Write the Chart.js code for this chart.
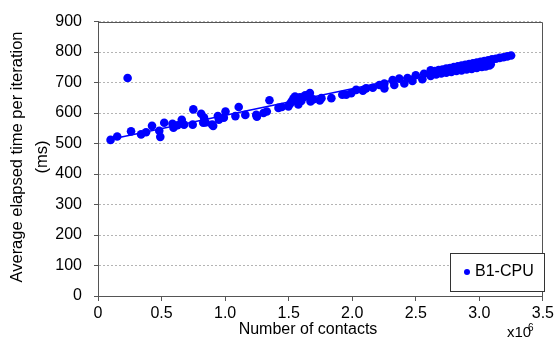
<!DOCTYPE html>
<html>
<head>
<meta charset="utf-8">
<script src="https://cdn.jsdelivr.net/npm/chart.js@4"></script>
<style>
  html, body { margin: 0; padding: 0; background: #fff; }
</style>
</head>
<body>
<canvas id="chart" width="557" height="345"></canvas>
<script>
// measured points: number of contacts (millions) vs time (ms)
var contactsM = [
  0.099, 0.151, 0.233, 0.26, 0.339, 0.378, 0.425, 0.482, 0.49, 0.521,
  0.586, 0.594, 0.625, 0.659, 0.677, 0.75, 0.745, 0.812, 0.834, 0.828,
  0.847, 0.898, 0.906, 0.943, 0.951, 0.99, 1.003, 1.081, 1.107, 1.159,
  1.245, 1.25, 1.302, 1.328, 1.349, 1.42, 1.446, 1.498, 1.51, 1.523,
  1.537, 1.55, 1.56, 1.576, 1.589, 1.6, 1.615, 1.63, 1.654, 1.667,
  1.672, 1.693, 1.745, 1.758, 1.836, 1.922, 1.953, 1.992, 2.031, 2.084,
  2.109, 2.162, 2.214, 2.253, 2.253, 2.318, 2.331, 2.37, 2.41, 2.435,
  2.474, 2.5, 2.552, 2.565, 2.617, 2.617,
  2.65, 2.68, 2.71, 2.74, 2.77, 2.80, 2.83, 2.86, 2.89, 2.92,
  2.95, 2.98, 3.01, 3.04, 3.07, 3.10, 3.13, 3.16, 3.19, 3.22, 3.25,
  2.66, 2.70, 2.74, 2.78, 2.82, 2.86, 2.90, 2.94, 2.98, 3.02, 3.05, 3.08, 3.09,
  2.68, 2.72, 2.80, 2.88, 2.96, 3.04
];
var elapsedMs = [
  512, 523, 715, 540, 530, 537, 558, 542, 522, 568,
  565, 552, 560, 578, 562, 612, 562, 598, 585, 568,
  569, 562, 558, 590, 578, 585, 605, 590, 620, 594,
  594, 588, 600, 605, 642, 617, 620, 622, 630, 638,
  648, 654, 645, 628, 652, 640, 652, 658, 654, 666,
  638, 645, 641, 649, 649, 660, 660, 665, 676, 673,
  681, 683, 692, 697, 681, 708, 692, 713, 697, 715,
  705, 724, 711, 729, 722, 740,
  738, 741, 743, 746, 748, 751, 753, 756, 758, 761,
  763, 766, 768, 771, 773, 776, 778, 781, 783, 786, 789,
  727, 730, 732, 735, 738, 740, 743, 745, 748, 751, 753, 756, 760,
  733, 737, 744, 750, 756, 762
];
// trend line end points
var trendX = [0.1, 3.25];
var trendY = [514, 789];

var seriesName = 'B1-CPU';
var xTitle = 'Number of contacts';
var yTitle = ['Average elapsed time per iteration', '(ms)'];

var blue = '#0000ff';
var axisGrey = '#555555';
var fontName = '"Liberation Sans", Arial, sans-serif';

function toPoints(xs, ys) {
  var out = [];
  for (var i = 0; i < xs.length; i++) out.push({ x: xs[i], y: ys[i] });
  return out;
}

// titles, top/right frame and the legend box inside the plot
var extras = {
  id: 'extras',
  afterDraw: function (chart) {
    var ctx = chart.ctx;
    var a = chart.chartArea;
    ctx.save();
    ctx.strokeStyle = axisGrey;
    ctx.lineWidth = 1;
    ctx.beginPath();
    ctx.moveTo(Math.round(a.left) + 0.5, Math.round(a.top) + 0.5);
    ctx.lineTo(Math.round(a.right) - 0.5, Math.round(a.top) + 0.5);
    ctx.lineTo(Math.round(a.right) - 0.5, Math.round(a.bottom) + 0.5);
    ctx.stroke();

    ctx.fillStyle = '#000';
    ctx.font = '16px ' + fontName;
    ctx.textAlign = 'center';
    ctx.textBaseline = 'middle';
    ctx.fillText(xTitle, 308, 330);

    // x10^6
    ctx.textAlign = 'left';
    ctx.font = '15px ' + fontName;
    ctx.fillText('x10', 507, 333);
    ctx.font = '10px ' + fontName;
    ctx.fillText('6', 528, 328);

    // y title, two lines
    ctx.font = '16.5px ' + fontName;
    ctx.textAlign = 'center';
    ctx.translate(17, 157);
    ctx.rotate(-Math.PI / 2);
    ctx.fillText(yTitle[0], 0, 0);
    ctx.fillText(yTitle[1], 0, 25);
    ctx.restore();

    // legend
    ctx.save();
    ctx.fillStyle = '#fff';
    ctx.fillRect(450, 253, 94, 38);
    ctx.strokeStyle = '#333';
    ctx.lineWidth = 1;
    ctx.strokeRect(450.5, 253.5, 94, 38);
    ctx.fillStyle = blue;
    ctx.beginPath();
    ctx.arc(467, 272, 3, 0, Math.PI * 2);
    ctx.fill();
    ctx.fillStyle = '#000';
    ctx.font = '16px ' + fontName;
    ctx.textAlign = 'left';
    ctx.textBaseline = 'middle';
    ctx.fillText(seriesName, 475, 272);
    ctx.restore();
  }
};

var ctx = document.getElementById('chart').getContext('2d');
var chart = new Chart(ctx, {
  type: 'scatter',
  data: {
    datasets: [{
      label: seriesName,
      data: toPoints(contactsM, elapsedMs),
      backgroundColor: blue,
      borderColor: blue,
      pointRadius: 4.3,
      pointHoverRadius: 4.3,
      borderWidth: 0
    }, {
      label: 'trend',
      data: toPoints(trendX, trendY),
      showLine: true,
      borderColor: blue,
      borderWidth: 1.5,
      pointRadius: 0,
      fill: false
    }]
  },
  plugins: [extras],
  options: {
    responsive: false,
    animation: false,
    layout: { padding: { top: 15, right: 11, left: 0, bottom: 0 } },
    plugins: {
      legend: { display: false },
      tooltip: { enabled: false }
    },
    scales: {
      x: {
        type: 'linear',
        min: 0,
        max: 3.5,
        afterFit: function (s) { s.height = 49; },
        ticks: { stepSize: 0.5, color: '#000', font: { family: fontName, size: 16 }, padding: 3, maxRotation: 0 },
        grid: { drawOnChartArea: false, drawTicks: true, tickLength: 5, tickColor: axisGrey },
        border: { color: axisGrey, width: 1 }
      },
      y: {
        min: 0,
        max: 900,
        afterFit: function (s) { s.width = 98; },
        ticks: { stepSize: 100, color: '#000', font: { family: fontName, size: 16 }, padding: 12 },
        grid: { color: '#b4b4b4', lineWidth: 1, tickLength: 4, tickColor: axisGrey },
        border: { color: axisGrey, width: 1, dash: [2, 2] }
      }
    }
  }
});
</script>
</body>
</html>
